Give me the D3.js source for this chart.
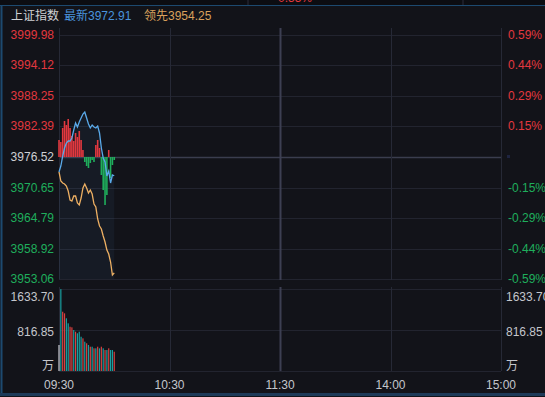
<!DOCTYPE html>
<html>
<head>
<meta charset="utf-8">
<script src="https://cdn.jsdelivr.net/npm/d3@7"></script>
<style>
  html, body { margin: 0; padding: 0; background: #121319; }
  svg { display: block; font-family: "Liberation Sans", Arial, "Noto Sans CJK SC", sans-serif; }
</style>
</head>
<body>
<div id="chart"></div>
<script>
// minutes since 09:30 (trading time), one point per minute
var minutes = d3.range(0, 31);

// 最新 (index price)
var lastPrice = [3973.64, 3974.79, 3976.71, 3978.25, 3979.21, 3979.60, 3979.60, 3980.17, 3981.71, 3983.06,
                 3982.29, 3983.25, 3984.02, 3984.79, 3985.17, 3984.02, 3982.87, 3982.10, 3982.67, 3982.29,
                 3982.10, 3982.48, 3981.14, 3978.25, 3976.33, 3975.56, 3972.87, 3973.83, 3971.52, 3973.06, 3972.91];

// 领先 (leading index)
var leadPrice = [3973.64, 3971.90, 3971.52, 3971.33, 3970.94, 3969.98, 3968.25, 3968.06, 3969.02, 3969.02,
                 3967.67, 3967.29, 3968.63, 3970.56, 3971.33, 3970.56, 3969.60, 3970.17, 3969.40, 3967.48,
                 3966.90, 3964.60, 3963.25, 3962.67, 3961.33, 3960.17, 3958.63, 3957.86, 3956.33, 3953.83, 3954.25];

// red / green strength bars, in index points around the previous close
var power = [3.27, 2.88, 5.58, 6.92, 6.15, 7.31, 5.58, 4.04, 3.08, 4.62,
             3.85, 5.00, 3.27, 1.35, -0.96, -1.73, -2.12, -1.15, -0.58, -0.96,
             2.31, 3.27, 1.73, -3.46, -6.35, -9.23, -7.31, 1.35, -4.04, -1.54, -0.58];

// volume (万), and tick direction: 0 auction, 1 up, -1 down
var volume = [518, 1630, 1181, 1149, 1050, 950, 882, 870, 817, 783,
              751, 783, 683, 651, 584, 552, 518, 484, 484, 452,
              452, 484, 452, 484, 452, 418, 418, 452, 418, 418, 384];
var volDir = [0, -1, 1, 1, -1, -1, 1, 1, -1, 1,
              -1, -1, -1, 1, -1, 1, -1, 1, -1, 1,
              -1, 1, -1, 1, -1, 1, -1, 1, -1, -1, 1];

var prevClose = 3976.52;
var priceTicks = [3999.98, 3994.12, 3988.25, 3982.39, 3976.52, 3970.65, 3964.79, 3958.92, 3953.06];
var priceLabels = ["3999.98", "3994.12", "3988.25", "3982.39", "3976.52", "3970.65", "3964.79", "3958.92", "3953.06"];
var pctLabels = ["0.59%", "0.44%", "0.29%", "0.15%", "", "-0.15%", "-0.29%", "-0.44%", "-0.59%"];
var volTicks = [1633.70, 816.85];
var volLabels = ["1633.70", "816.85"];
var timeTicks = [0, 60, 120, 180, 240];
var timeLabels = ["09:30", "10:30", "11:30", "14:00", "15:00"];

var W = 545, H = 397;
var red = "#e2383f", green = "#1fae5c", teal = "#18a0a0";

var svg = d3.select("#chart").append("svg")
    .attr("width", W).attr("height", H);

svg.append("rect").attr("width", W).attr("height", H).attr("fill", "#121319");

// top strip left from the panel above
svg.append("rect").attr("width", W).attr("height", 5).attr("fill", "#0c0d12");
svg.append("text").attr("x", 278).attr("y", 2).attr("fill", red).attr("font-size", 12).text("0.55%");
svg.append("line").attr("x1", 248).attr("x2", 248).attr("y1", 0).attr("y2", 5).attr("stroke", "#2a2d3a");
svg.append("line").attr("x1", 463).attr("x2", 463).attr("y1", 0).attr("y2", 5).attr("stroke", "#2a2d3a");
// frame
svg.append("line").attr("x1", 0).attr("x2", W).attr("y1", 5.5).attr("y2", 5.5).attr("stroke", "#1d4a70");
svg.append("line").attr("x1", 1.5).attr("x2", 1.5).attr("y1", 5).attr("y2", 394).attr("stroke", "#1d4a70").attr("stroke-width", 2);
svg.append("line").attr("x1", 0).attr("x2", W).attr("y1", 394.5).attr("y2", 394.5).attr("stroke", "#1d3a58").attr("stroke-width", 3);

// header
var head = svg.append("text").attr("y", 20).attr("font-size", 12);
head.append("tspan").attr("x", 11).attr("fill", "#cfd0d4").text("上证指数");
head.append("tspan").attr("x", 64).attr("fill", "#4a94dc").text("最新3972.91");
head.append("tspan").attr("x", 144).attr("fill", "#d9a15c").text("领先3954.25");

// scales
var x = d3.scaleLinear().domain([0, 240]).range([59, 501]);
var y = d3.scaleLinear().domain([3953.06, 3999.98]).range([279, 35]);
var yv = d3.scaleLinear().domain([0, 1633.70]).range([371, 289]);

var grid = svg.append("g");
// horizontal price grid
grid.selectAll("line.h").data(priceTicks).enter().append("line")
    .attr("x1", x(0)).attr("x2", x(240))
    .attr("y1", function(d) { return Math.round(y(d)) + 0.5; })
    .attr("y2", function(d) { return Math.round(y(d)) + 0.5; })
    .attr("stroke", function(d) { return d === prevClose ? "#3a3d4e" : "#22242f"; })
    .attr("stroke-width", function(d) { return d === prevClose ? 1.5 : 1; });
// volume grid
grid.selectAll("line.v").data([1633.70, 816.85, 0]).enter().append("line")
    .attr("x1", x(0)).attr("x2", x(240))
    .attr("y1", function(d) { return Math.round(yv(d)) + 0.5; })
    .attr("y2", function(d) { return Math.round(yv(d)) + 0.5; })
    .attr("stroke", "#22242f");
// vertical time grid
timeTicks.forEach(function(t) {
    var xx = Math.round(x(t)) + 0.5;
    var strong = t === 120;
    grid.append("line").attr("x1", xx).attr("x2", xx).attr("y1", 28).attr("y2", 280)
        .attr("stroke", strong ? "#3c3f52" : "#262936").attr("stroke-width", strong ? 2 : 1);
    grid.append("line").attr("x1", xx).attr("x2", xx).attr("y1", 287).attr("y2", 371)
        .attr("stroke", strong ? "#3c3f52" : "#262936").attr("stroke-width", strong ? 2 : 1);
});

// left labels
svg.selectAll("text.pl").data(priceTicks).enter().append("text")
    .attr("x", 54).attr("y", function(d) { return y(d) + 4; })
    .attr("text-anchor", "end").attr("font-size", 12)
    .attr("fill", function(d) { return d > prevClose ? red : d < prevClose ? green : "#cfd0d4"; })
    .text(function(d, i) { return priceLabels[i]; });
// right labels
svg.selectAll("text.pr").data(priceTicks).enter().append("text")
    .attr("x", 508).attr("y", function(d) { return y(d) + 4; })
    .attr("font-size", 12)
    .attr("fill", function(d) { return d > prevClose ? red : green; })
    .text(function(d, i) { return pctLabels[i]; });
svg.append("rect").attr("x", 507).attr("y", 155).attr("width", 3).attr("height", 3).attr("fill", "#1e2440");

// volume labels
svg.selectAll("text.vl").data(volTicks).enter().append("text")
    .attr("x", 54).attr("y", function(d) { return yv(d) + (d === 1633.70 ? 12 : 6); })
    .attr("text-anchor", "end").attr("font-size", 12).attr("fill", "#c4c6cc")
    .text(function(d, i) { return volLabels[i]; });
svg.selectAll("text.vr").data(volTicks).enter().append("text")
    .attr("x", 506).attr("y", function(d) { return yv(d) + (d === 1633.70 ? 12 : 6); })
    .attr("font-size", 12).attr("fill", "#c4c6cc")
    .text(function(d, i) { return volLabels[i]; });
svg.append("text").attr("x", 54).attr("y", 370).attr("text-anchor", "end")
    .attr("font-size", 12).attr("fill", "#c4c6cc").text("万");
svg.append("text").attr("x", 506).attr("y", 370)
    .attr("font-size", 12).attr("fill", "#c4c6cc").text("万");

// time labels
svg.selectAll("text.t").data(timeTicks).enter().append("text")
    .attr("x", function(d) { return x(d); }).attr("y", 389)
    .attr("text-anchor", "middle").attr("font-size", 12).attr("fill", "#c4c6cc")
    .text(function(d, i) { return timeLabels[i]; });

// faint fill under price line
svg.append("path")
    .datum(minutes)
    .attr("d", d3.area()
        .x(function(i) { return x(i); })
        .y0(279)
        .y1(function(i) { return y(lastPrice[i]); }))
    .attr("fill", "#5a8cc8").attr("opacity", 0.07);

// strength bars
svg.selectAll("rect.pw").data(minutes).enter().append("rect")
    .attr("x", function(i) { return x(i) - 0.8; })
    .attr("width", 1.6)
    .attr("y", function(i) { return Math.min(y(prevClose + power[i]), y(prevClose)); })
    .attr("height", function(i) { return Math.abs(y(prevClose + power[i]) - y(prevClose)); })
    .attr("fill", function(i) { return power[i] >= 0 ? red : green; });

// lines
svg.append("path").datum(minutes)
    .attr("d", d3.line().x(function(i) { return x(i); }).y(function(i) { return y(leadPrice[i]); }))
    .attr("fill", "none").attr("stroke", "#eeb063").attr("stroke-width", 1.3);
svg.append("path").datum(minutes)
    .attr("d", d3.line().x(function(i) { return x(i); }).y(function(i) { return y(lastPrice[i]); }))
    .attr("fill", "none").attr("stroke", "#5aaaea").attr("stroke-width", 1.3);

// volume bars
svg.selectAll("rect.vol").data(minutes).enter().append("rect")
    .attr("x", function(i) { return x(i) - 0.6; })
    .attr("width", 1.2)
    .attr("y", function(i) { return yv(volume[i]); })
    .attr("height", function(i) { return yv(0) - yv(volume[i]); })
    .attr("fill", function(i) { return volDir[i] === 0 ? "#c9cbd2" : volDir[i] > 0 ? "#d8403f" : teal; });
</script>
</body>
</html>
